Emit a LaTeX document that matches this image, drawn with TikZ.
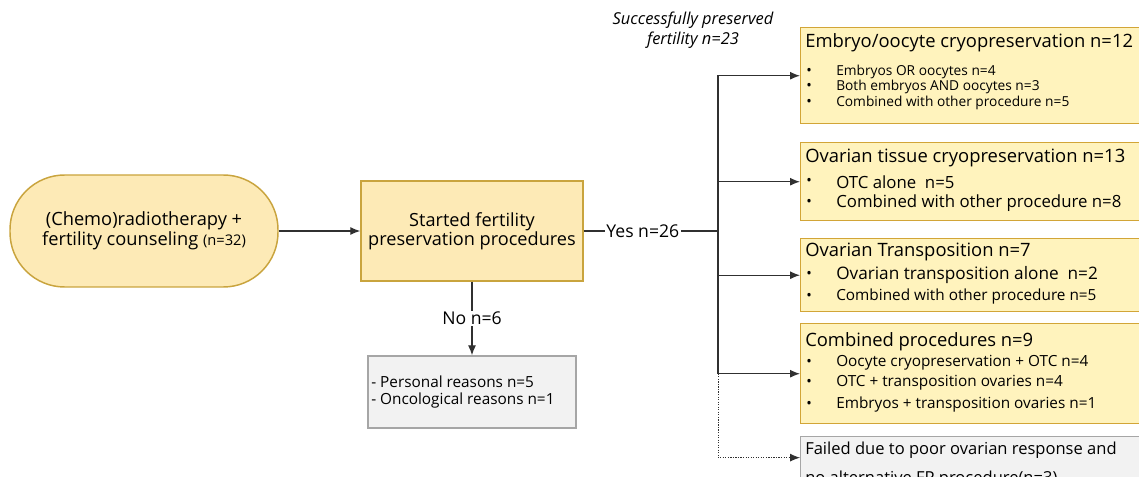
\documentclass[tikz,border=0pt]{standalone}
\usepackage{fontspec}
\setmainfont{Open Sans}
\usetikzlibrary{arrows.meta,shapes,positioning,calc}

\definecolor{startfill}{HTML}{FDEAB6}
\definecolor{startline}{HTML}{C9A43E}
\definecolor{procfill}{HTML}{FFF3BD}
\definecolor{procline}{HTML}{D2A537}
\definecolor{greyfill}{HTML}{F2F2F2}
\definecolor{greyline}{HTML}{A6A6A6}
\definecolor{flowline}{HTML}{303030}

\newcommand{\fs}[1]{\fontsize{#1}{1.2\dimexpr#1pt\relax}\selectfont}

\tikzset{
  startbox/.style={draw=startline, fill=startfill, line width=1.1pt, align=center},
  procbox/.style={draw=procline, fill=procfill, line width=1.1pt, anchor=north west, minimum width=262pt},
  greybox/.style={draw=greyline, fill=greyfill, line width=1pt},
  flow/.style={draw=flowline, line width=0.9pt, -{Latex[length=7.5pt,width=6pt]}},
  lbl/.style={fill=white, inner sep=1pt, font=\fs{13.2}},
  ln/.style={anchor=west, inner sep=0pt},
  hd/.style={ln, font=\fs{13.8}},
  dot/.style={ln, font=\fs{11}},
}

\begin{document}
\begin{tikzpicture}[x=0.75pt, y=-0.75pt]
\path[use as bounding box] (0,0) rectangle (1139,477);
\clip (0,0) rectangle (1139,477);

% left part
\node[startbox, rounded corners=41pt, minimum width=201pt, minimum height=84pt] (counsel) at (144,231)
  {\fs{13.7}(Chemo)radiotherapy +\\ \fs{13.7}fertility counseling {\fs{11}(n=32)}};
\node[startbox, minimum width=166.5pt, minimum height=75pt] (started) at (472,231)
  {\fs{13.6}Started fertility\\ \fs{13.6}preservation procedures};
\node[greybox, minimum width=156pt, minimum height=54pt] (noreason) at (472,392) {};
\node[ln, font=\fs{11.5}] (pers) at (371,382) {- Personal reasons n=5};
\node[ln, font=\fs{11.5}] (onco) at (371,401) {- Oncological reasons n=1};

\node[font=\fs{12.3}\itshape, align=center] (success) at (693,30)
  {Successfully preserved\\ fertility n=23};

% right boxes
\node[procbox, minimum height=72pt] (embryo) at (800,27) {};
\node[hd] at (805,43) {Embryo/oocyte cryopreservation n=12};
\node[dot] at (806,72) {\textbullet};
\node[ln, font=\fs{10.3}] at (836,72) {Embryos OR oocytes n=4};
\node[dot] at (806,87) {\textbullet};
\node[ln, font=\fs{10.3}] at (836,87) {Both embryos AND oocytes n=3};
\node[dot] at (806,103) {\textbullet};
\node[ln, font=\fs{10.3}] at (836,103) {Combined with other procedure n=5};

\node[procbox, minimum height=58.5pt] (otc) at (800,142) {};
\node[hd] at (805,158) {Ovarian tissue cryopreservation n=13};
\node[dot] at (806,182) {\textbullet};
\node[ln, font=\fs{12.6}] at (836,182) {OTC alone~ n=5};
\node[dot] at (806,203) {\textbullet};
\node[ln, font=\fs{12.6}] at (836,203) {Combined with other procedure n=8};

\node[procbox, minimum height=54.75pt] (transp) at (800,238) {};
\node[hd] at (805,252) {Ovarian Transposition n=7};
\node[dot] at (806,275) {\textbullet};
\node[ln, font=\fs{12.9}] at (836,275) {Ovarian transposition alone~ n=2};
\node[dot] at (806,297) {\textbullet};
\node[ln, font=\fs{11.5}] at (836,297) {Combined with other procedure n=5};

\node[procbox, minimum height=75pt] (comb) at (800,323) {};
\node[hd] at (805,342) {Combined procedures n=9};
\node[dot] at (806,363) {\textbullet};
\node[ln, font=\fs{11.5}] at (836,363) {Oocyte cryopreservation + OTC n=4};
\node[dot] at (806,383) {\textbullet};
\node[ln, font=\fs{11.5}] at (836,383) {OTC + transposition ovaries n=4};
\node[dot] at (806,405) {\textbullet};
\node[ln, font=\fs{11.5}] at (836,405) {Embryos + transposition ovaries n=1};

\node[greybox, anchor=north west, minimum width=262pt, minimum height=31.5pt] (failed) at (800,436) {};
\node[ln, font=\fs{12.4}] at (805,450) {Failed due to poor ovarian response and};
\node[ln, font=\fs{12.4}] at (805,479) {no alternative FP procedure(n=3)};

% connectors
\coordinate (fork) at (718,231);
\path[flow] (counsel) -- (started);
\path[draw=flowline, line width=0.9pt] (started) -- node[lbl, pos=0.44] {Yes n=26} (fork);
\path[flow] (started) -- node[lbl] {No n=6} (noreason);
\path[flow] (fork) |- (embryo.west);
\path[flow] (fork) |- (otc.west);
\path[flow] (fork) |- (transp.west);
\path[flow] (fork) |- (comb.west);
\path[flow, densely dotted, line width=0.6pt] (comb.west -| fork) |- (failed.west);

\end{tikzpicture}
\end{document}
